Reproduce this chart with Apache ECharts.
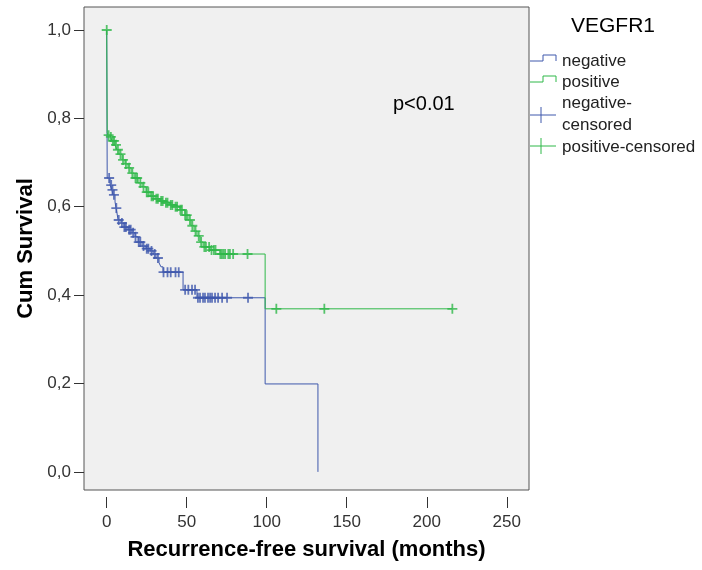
<!DOCTYPE html>
<html>
<head>
<meta charset="utf-8">
<script src="https://cdn.jsdelivr.net/npm/echarts@6/dist/echarts.min.js"></script>
<style>
  html, body { margin: 0; padding: 0; background: #fff; }
  #chart { width: 702px; height: 570px; }
</style>
</head>
<body>
<div id="chart"></div>
<script>
// Kaplan-Meier steps (months, cum survival after the event)
var negTimes = [0, 0.3, 2.1, 3.3, 3.9, 5.2, 5.8, 6.4, 7.1, 8.9, 10.8, 13.3, 15.8, 17.7, 19.6, 22.1, 24.6, 27.1, 29.0, 30.8, 32.7, 33.9, 35.2, 47.7, 56.4, 99.0, 132.0];
var negSurv  = [1.0, 0.665, 0.649, 0.638, 0.627, 0.611, 0.597, 0.586, 0.570, 0.563, 0.554, 0.548, 0.541, 0.532, 0.520, 0.511, 0.505, 0.500, 0.493, 0.484, 0.473, 0.464, 0.452, 0.412, 0.394, 0.199, 0.0];
var posTimes = [0, 0.3, 0.8, 2.1, 3.3, 5.2, 6.4, 7.7, 9.6, 11.4, 13.3, 15.2, 17.1, 19.6, 22.1, 24.6, 27.1, 30.2, 33.3, 36.4, 39.6, 42.7, 45.8, 48.9, 50.8, 52.7, 54.6, 56.4, 58.3, 60.2, 64.6, 70.8, 99.0, 216];
var posSurv  = [1.0, 0.767, 0.762, 0.758, 0.749, 0.740, 0.729, 0.719, 0.706, 0.697, 0.688, 0.676, 0.665, 0.654, 0.645, 0.633, 0.624, 0.618, 0.613, 0.609, 0.604, 0.600, 0.593, 0.581, 0.570, 0.557, 0.545, 0.534, 0.520, 0.509, 0.502, 0.493, 0.369, 0.369];

// censored observations (months)
var negCensor = [1.5, 2.8, 3.6, 4.5, 6, 7.5, 9.5, 11, 12, 14, 15, 16.5, 18, 20, 21, 23, 25, 26, 28, 30, 32, 35.5, 38, 40, 43, 45, 49, 51, 53.3, 55.2, 57, 58.3, 60.2, 61.4, 63.3, 64.6, 65.8, 67.7, 69.6, 72.1, 75.2, 88.3];
var posCensor = [0, 1.2, 2.6, 3.8, 4.6, 5.8, 7, 8.6, 10.2, 12, 14, 16, 18, 19, 21, 23, 25, 26, 28, 29, 31, 32, 34, 35, 37, 38, 40, 41, 43, 44, 46, 47, 49, 50, 52, 53.5, 55.5, 57.5, 59, 61, 62, 64, 65.5, 67, 68, 71, 72, 73, 74, 76, 77, 79, 88, 106, 136, 216];

var xTicks = [0, 50, 100, 150, 200, 250];
var yTicks = [0, 0.2, 0.4, 0.6, 0.8, 1.0];

var blue = '#3e58ac';
var green = '#2eb848';
var font = 'Liberation Sans, Arial, sans-serif';
var plus = 'path://M4.1,0H5.9V4.1H10V5.9H5.9V10H4.1V5.9H0V4.1H4.1Z';

function pairs(ts, ss) {
    var out = [];
    for (var i = 0; i < ts.length; i++) out.push([ts[i], ss[i]]);
    return out;
}
// survival value of the step curve at time t
function stepAt(ts, ss, t) {
    var s = ss[0];
    for (var i = 0; i < ts.length; i++) {
        if (ts[i] <= t) s = ss[i];
    }
    return s;
}
function censorPts(cs, ts, ss) {
    return cs.map(function (t) { return [t, stepAt(ts, ss, t)]; });
}

var chart = echarts.init(document.getElementById('chart'), null, { renderer: 'canvas' });

var option = {
    animation: false,
    backgroundColor: '#ffffff',
    textStyle: { fontFamily: font },
    grid: {
        left: 84, right: 173, top: 7, bottom: 80,
        show: true, backgroundColor: '#f0f0f0', borderColor: '#555555', borderWidth: 1
    },
    xAxis: {
        type: 'value', min: -14.2, max: 263.9, offset: 7,
        name: 'Recurrence-free survival (months)', nameLocation: 'middle', nameGap: 42,
        nameTextStyle: { fontSize: 22, fontWeight: 'bold', color: '#000', fontFamily: font },
        axisLine: { show: false, onZero: false },
        axisTick: { show: true, length: 11, lineStyle: { color: '#333', width: 1 }, customValues: xTicks },
        axisLabel: { customValues: xTicks, margin: 17, fontSize: 17, color: '#333', fontFamily: font },
        splitLine: { show: false }
    },
    yAxis: {
        type: 'value', min: -0.041, max: 1.052,
        name: 'Cum Survival', nameLocation: 'middle', nameGap: 46, nameRotate: 90,
        nameTextStyle: { fontSize: 22, fontWeight: 'bold', color: '#000', fontFamily: font },
        axisLine: { show: false, onZero: false },
        axisTick: { show: true, length: 10, lineStyle: { color: '#333', width: 1 }, customValues: yTicks },
        axisLabel: {
            customValues: yTicks, margin: 13, fontSize: 17, color: '#333', fontFamily: font,
            formatter: function (v) { return v.toFixed(1).replace('.', ','); }
        },
        splitLine: { show: false }
    },
    series: [
        {
            name: 'negative', type: 'line', step: 'end', showSymbol: false,
            data: pairs(negTimes, negSurv),
            lineStyle: { color: blue, width: 1 }, itemStyle: { color: blue }, z: 2
        },
        {
            name: 'positive', type: 'line', step: 'end', showSymbol: false,
            data: pairs(posTimes, posSurv),
            lineStyle: { color: green, width: 1 }, itemStyle: { color: green }, z: 3
        },
        {
            name: 'negative-censored', type: 'scatter', symbol: plus, symbolSize: 10,
            data: censorPts(negCensor, negTimes, negSurv),
            itemStyle: { color: blue }, z: 4
        },
        {
            name: 'positive-censored', type: 'scatter', symbol: plus, symbolSize: 10,
            data: censorPts(posCensor, posTimes, posSurv),
            itemStyle: { color: green }, z: 5
        }
    ],
    graphic: [
        { type: 'text', left: 393, top: 94, style: { text: 'p<0.01', fontSize: 20, fill: '#000', fontFamily: font } },
        { type: 'text', x: 613, y: 26, style: { text: 'VEGFR1', fontSize: 21, fill: '#000', fontFamily: font, align: 'center', verticalAlign: 'middle' } },
        { type: 'polyline', shape: { points: [[530, 61], [543, 61], [543, 55], [556, 55], [556, 61]] }, style: { stroke: blue, lineWidth: 1, fill: null } },
        { type: 'text', x: 562, y: 61, style: { text: 'negative', fontSize: 17, fill: '#222', fontFamily: font, verticalAlign: 'middle' } },
        { type: 'polyline', shape: { points: [[530, 82], [543, 82], [543, 76], [556, 76], [556, 82]] }, style: { stroke: green, lineWidth: 1, fill: null } },
        { type: 'text', x: 562, y: 82, style: { text: 'positive', fontSize: 17, fill: '#222', fontFamily: font, verticalAlign: 'middle' } },
        { type: 'line', shape: { x1: 530, y1: 115, x2: 556, y2: 115 }, style: { stroke: blue, lineWidth: 1 } },
        { type: 'line', shape: { x1: 541, y1: 107, x2: 541, y2: 123 }, style: { stroke: blue, lineWidth: 1 } },
        { type: 'text', x: 562, y: 114, style: { text: 'negative-\ncensored', fontSize: 17, lineHeight: 22, fill: '#222', fontFamily: font, verticalAlign: 'middle' } },
        { type: 'line', shape: { x1: 530, y1: 146, x2: 556, y2: 146 }, style: { stroke: green, lineWidth: 1 } },
        { type: 'line', shape: { x1: 541, y1: 138, x2: 541, y2: 154 }, style: { stroke: green, lineWidth: 1 } },
        { type: 'text', x: 562, y: 147, style: { text: 'positive-censored', fontSize: 17, fill: '#222', fontFamily: font, verticalAlign: 'middle' } }
    ]
};

chart.setOption(option);
</script>
</body>
</html>
